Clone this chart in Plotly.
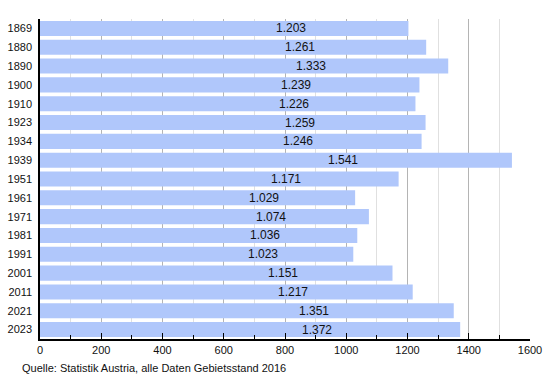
import plotly.graph_objects as go

years = ["1869", "1880", "1890", "1900", "1910", "1923", "1934", "1939", "1951",
         "1961", "1971", "1981", "1991", "2001", "2011", "2021", "2023"]
values = [1203, 1261, 1333, 1239, 1226, 1259, 1246, 1541, 1171,
          1029, 1074, 1036, 1023, 1151, 1217, 1351, 1372]
labels = [f"{v/1000:.3f}" for v in values]
pos = list(range(len(years)))

fig = go.Figure()
fig.add_trace(go.Bar(
    y=pos, x=values, orientation="h",
    marker=dict(color="#b0c7fb", line=dict(width=0)),
    hoverinfo="skip",
))
for p, v, t in zip(pos, values, labels):
    fig.add_annotation(x=v / 2 + 218, y=p, text=t, showarrow=False,
                       font=dict(family="Liberation Sans, Arial", size=12, color="#111"),
                       xanchor="center", yanchor="middle")

fig.add_annotation(xref="paper", yref="paper", x=-0.04, y=-0.09, xanchor="left", yanchor="middle",
                   text="Quelle: Statistik Austria, alle Daten Gebietsstand 2016", showarrow=False,
                   font=dict(family="Liberation Sans, Arial", size=11, color="#111"))

fig.update_layout(
    width=550, height=380,
    margin=dict(l=40, r=20, t=19, b=41, autoexpand=False),
    plot_bgcolor="white", paper_bgcolor="white",
    bargap=0.2,
    showlegend=False,
    font=dict(family="Liberation Sans, Arial", size=11, color="#111"),
)
fig.update_xaxes(
    range=[0, 1600], dtick=200, tick0=0,
    showgrid=True, gridcolor="#b4b4b4", gridwidth=1,
    showline=True, linecolor="black", linewidth=1.5,
    ticks="inside", ticklen=6, tickcolor="black",
    minor=dict(dtick=100, showgrid=True, gridcolor="#e0e0e0", ticks="inside", ticklen=4, tickcolor="black"),
    zeroline=False, fixedrange=True, automargin=False,
)
fig.update_yaxes(
    range=[len(years) - 0.5, -0.5],
    tickmode="array", tickvals=pos, ticktext=years,
    showline=True, linecolor="black", linewidth=1.5,
    ticks="", showgrid=False, zeroline=False, ticklabelstandoff=4,
    fixedrange=True, automargin=False,
)

fig.write_html("out.html", config={"displayModeBar": False},
               post_script="document.body.style.margin='0px';")
